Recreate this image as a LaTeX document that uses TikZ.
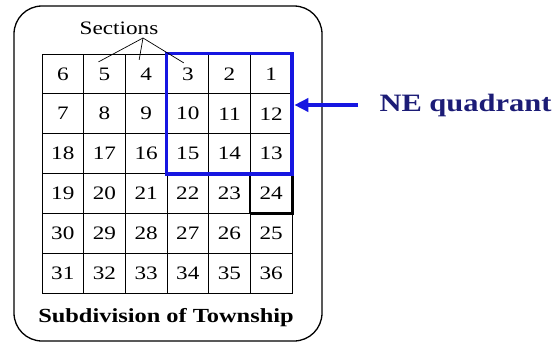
\documentclass[tikz,border=0pt]{standalone}
\usepackage{fontspec}
\setmainfont{Liberation Serif}[FakeStretch=1.22]
\usepackage{xcolor}
\usetikzlibrary{arrows.meta,positioning,fit,calc}
\definecolor{quadblue}{RGB}{22,22,225}
\definecolor{labelnavy}{RGB}{28,28,118}
\begin{document}
\begin{tikzpicture}[x=1pt, y=-1pt,
    every node/.style={font=\fontsize{19}{20}\selectfont},
    cell/.style={draw, line width=0.8pt, minimum width=41.67pt, minimum height=39.83pt, inner sep=0pt}]
    \useasboundingbox (0,0) rectangle (560,345);
    % township frame
    \draw[line width=1.3pt, rounded corners=28pt] (14,6) rectangle (322,341);
    % the 36 sections, numbered back and forth
    \foreach \r in {0,...,5} {
      \foreach \c in {0,...,5} {
        \ifodd\r
          \pgfmathtruncatemacro{\n}{6*\r+1+\c}
        \else
          \pgfmathtruncatemacro{\n}{6*\r+6-\c}
        \fi
        \node (s\n) [cell] at (62.8+41.67*\c, 73.9+39.83*\r) {\n};
      }
    }
    % section 24 outlined
    \draw[line width=1.6pt] (s24.south west) -- (s24.north west);
    \draw[line width=3pt] (s24.south west) -- (s24.south east) -- (s24.north east);
    % NE quadrant
    \node (quad) [fit=(s3)(s13), inner sep=0pt, draw=quadblue, line width=3.8pt] {};
    \node (lbl) [anchor=west, text=labelnavy, font=\fontsize{25}{26}\selectfont\bfseries] at (376,105) {NE quadrant};
    \draw[quadblue, line width=3.8pt, -{Triangle[length=14pt, width=13pt]}] ([xshift=-18pt]lbl.west) -- (lbl.west -| quad.east);
    % sections label
    \node (sec) at (119,28) {Sections};
    \coordinate (hub) at (143,38);
    \draw[line width=0.7pt] (hub) -- ($(s5)+(-6,-12)$);
    \draw[line width=0.7pt] (hub) -- ($(s4)+(-7,-14)$);
    \draw[line width=0.7pt] (hub) -- ($(s3)+(-4,-11)$);
    % caption
    \node (town) [font=\fontsize{20}{21}\selectfont\bfseries] at (166,318) {Subdivision of Township};
\end{tikzpicture}
\end{document}
